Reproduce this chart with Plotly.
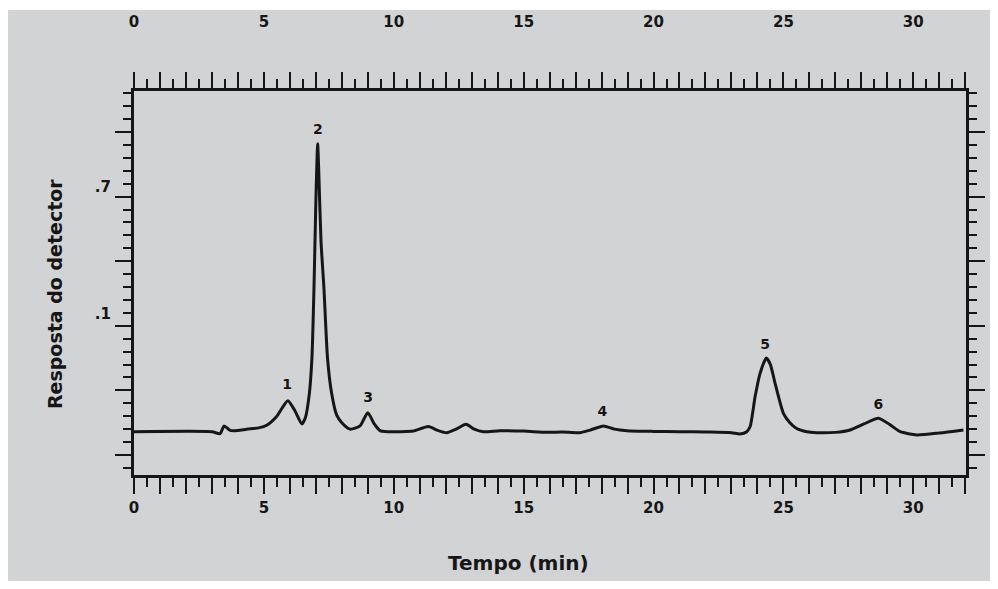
import plotly.graph_objects as go

# ---- data ----
tempo = [0, 3.0, 3.31, 3.47, 3.7, 4.0, 4.34, 4.8, 5.11, 5.5, 5.92, 6.2, 6.46, 6.6, 6.75, 6.85,
         6.93, 7.0, 7.07, 7.12, 7.2, 7.31, 7.45, 7.61, 7.8, 8.0, 8.32, 8.7, 9.0, 9.25, 9.47,
         9.8, 10.24, 10.75, 11.33, 11.7, 12.04, 12.4, 12.78, 13.1, 13.45, 14.09, 15.0, 15.89,
         16.5, 17.17, 17.6, 18.07, 18.5, 18.97, 20, 21, 22, 23.0, 23.33, 23.59, 23.72, 23.91,
         24.1, 24.34, 24.5, 24.68, 25.0, 25.25, 25.51, 25.9, 26.28, 27.0, 27.57, 28.1, 28.66,
         29.1, 29.5, 30.14, 31.0, 31.93]
resposta = [0.36, 0.36, 0.33, 0.45, 0.38, 0.38, 0.40, 0.42, 0.46, 0.60, 0.84, 0.68, 0.48, 0.58,
            0.95, 1.5, 2.6, 3.9, 4.82, 4.3, 3.3, 2.6, 1.5, 0.95, 0.62, 0.50, 0.40, 0.45, 0.655,
            0.48, 0.376, 0.36, 0.36, 0.37, 0.44, 0.38, 0.345, 0.40, 0.475, 0.40, 0.36, 0.376,
            0.37, 0.35, 0.355, 0.345, 0.39, 0.45, 0.40, 0.376, 0.365, 0.36, 0.355, 0.345, 0.325,
            0.36, 0.44, 0.90, 1.26, 1.50, 1.40, 1.11, 0.645, 0.50, 0.41, 0.36, 0.345, 0.35,
            0.387, 0.48, 0.57, 0.47, 0.36, 0.31, 0.34, 0.387]

pico_labels = ["1", "2", "3", "4", "5", "6"]
pico_x = [5.89, 7.08, 9.01, 18.03, 24.3, 28.66]
pico_y = [1.07, 5.03, 0.87, 0.65, 1.70, 0.76]

x_tick_vals = list(range(0, 33))
x_tick_text = [str(v) if v % 5 == 0 else "" for v in x_tick_vals]
y_major_vals = [0, 1, 2, 3, 4, 5]
y_label_vals = [2.18, 4.16]
y_label_text = [".1", ".7"]

XR = [0, 32.03]
YR = [-0.31, 5.635]
INK = "#161616"
FONT = "DejaVu Sans"

fig = go.Figure()
fig.add_trace(go.Scatter(x=tempo, y=resposta, mode="lines",
                         line=dict(color=INK, width=3, shape="spline", smoothing=0.6),
                         hoverinfo="skip", showlegend=False))
fig.add_trace(go.Scatter(x=pico_x, y=pico_y, mode="text", text=pico_labels,
                         textfont=dict(family=FONT, size=14, color=INK, weight="bold"),
                         showlegend=False, hoverinfo="skip"))
# helper traces for the overlay axes
fig.add_trace(go.Scatter(x=[XR[0]], y=[YR[0]], xaxis="x2", yaxis="y2", mode="markers",
                         marker=dict(opacity=0), showlegend=False, hoverinfo="skip"))
fig.add_trace(go.Scatter(x=[XR[0]], y=[YR[0]], xaxis="x", yaxis="y3", mode="markers",
                         marker=dict(opacity=0), showlegend=False, hoverinfo="skip"))

tickfont = dict(family=FONT, size=15, color=INK, weight="bold")
xcommon = dict(range=XR, showgrid=False, zeroline=False, showline=True, linewidth=3,
               linecolor=INK, ticks="outside", tickmode="array", tickvals=x_tick_vals,
               ticktext=x_tick_text, ticklen=16, tickwidth=2, tickcolor=INK,
               minor=dict(ticks="outside", dtick=0.5, tick0=0, ticklen=9, tickwidth=2,
                          tickcolor=INK, showgrid=False),
               tickfont=tickfont, fixedrange=True)
ycommon = dict(range=YR, showgrid=False, zeroline=False, showline=True, linewidth=3,
               linecolor=INK, ticks="outside", tickmode="array", tickvals=y_major_vals,
               ticktext=["" for _ in y_major_vals], ticklen=16, tickwidth=2, tickcolor=INK,
               minor=dict(ticks="outside", dtick=0.2, tick0=0, ticklen=8, tickwidth=2,
                          tickcolor=INK, showgrid=False),
               fixedrange=True)

fig.update_layout(
    width=998, height=589,
    margin=dict(l=134, r=32, t=91, b=114),
    paper_bgcolor="white",
    plot_bgcolor="rgba(0,0,0,0)",
    showlegend=False,
    xaxis=dict(**xcommon, side="bottom", anchor="y", ticklabelstandoff=1),
    xaxis2=dict(**xcommon, side="top", overlaying="x", anchor="y", ticklabelstandoff=39),
    yaxis=dict(**ycommon, side="left", anchor="x"),
    yaxis2=dict(**ycommon, side="right", overlaying="y", anchor="x"),
    yaxis3=dict(range=YR, overlaying="y", side="left", anchor="x", showgrid=False,
                zeroline=False, showline=False, ticks="outside", ticklen=19,
                tickcolor="rgba(0,0,0,0)", tickmode="array", tickvals=y_label_vals,
                ticktext=y_label_text, tickfont=tickfont, fixedrange=True),
    shapes=[dict(type="rect", xref="paper", yref="paper", x0=-0.1514, x1=1.0288,
                 y0=-0.276, y1=1.2109, fillcolor="#d2d3d5", line=dict(width=0),
                 layer="below")],
    annotations=[
        dict(text="Tempo (min)", xref="paper", yref="paper", x=0.462, y=-0.229,
             showarrow=False, font=dict(family=FONT, size=20, color=INK, weight="bold"),
             xanchor="center", yanchor="middle"),
        dict(text="Resposta do detector", xref="paper", yref="paper", x=-0.095, y=0.471,
             textangle=-90, showarrow=False,
             font=dict(family=FONT, size=19, color=INK, weight="bold"),
             xanchor="center", yanchor="middle"),
    ],
)

fig.write_html("out.html")
